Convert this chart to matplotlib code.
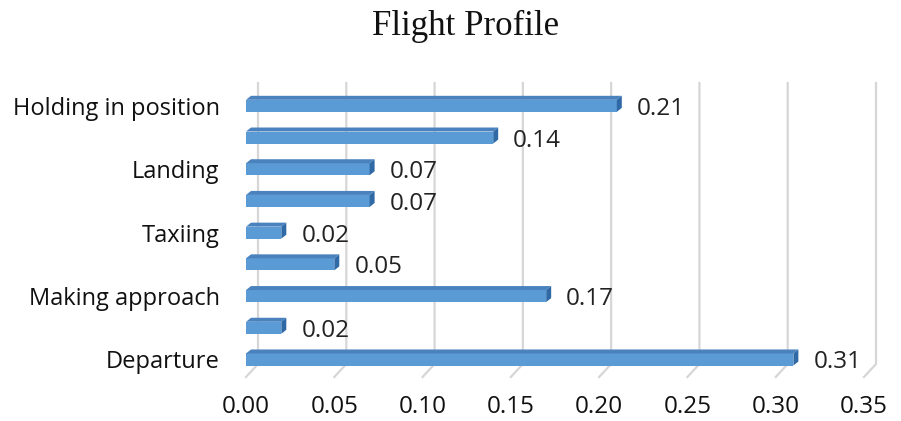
import matplotlib
matplotlib.use("Agg")
import matplotlib.pyplot as plt
from matplotlib.patches import Polygon

# Flight profile data, bottom to top
categories = ["Departure", "", "Making approach", "", "Taxiing", "",
              "Landing", "", "Holding in position"]
values = [0.31, 0.02, 0.17, 0.05, 0.02, 0.07, 0.07, 0.14, 0.21]
xticks = [0.00, 0.05, 0.10, 0.15, 0.20, 0.25, 0.30, 0.35]

FRONT = "#5B9BD5"
TOP = "#4A82BE"
SIDE = "#2F6AA6"
GRID = "#D6D6D6"
CAT_SIZE = 17
NUM_SIZE = 17.5

plt.rcParams["font.family"] = ["Open Sans", "DejaVu Sans"]

W, H, DPI = 901, 421, 100
fig = plt.figure(figsize=(W / DPI, H / DPI), dpi=DPI)

# axes box in pixels: front floor at the bottom, back wall top at the top
left_px, right_px = 246, 864
bottom_px, top_px = 377, 83
ax = fig.add_axes([left_px / W, (H - bottom_px) / H,
                   (right_px - left_px) / W, (bottom_px - top_px) / H])

ylo, yhi = -0.552, 8.72
ax.set_xlim(0, 0.35)
ax.set_ylim(ylo, yhi)

# data units per pixel
ux = 0.35 / (right_px - left_px)
uy = (yhi - ylo) / (bottom_px - top_px)

# 3D-style gridlines: back wall verticals with a diagonal to the front floor
gdx, gdy = 12 * ux, 13 * uy
for t in xticks:
    ax.plot([t, t + gdx, t + gdx], [ylo, ylo + gdy, yhi],
            color=GRID, lw=1.6, zorder=0, clip_on=False,
            solid_joinstyle="miter")

# bars: front face, top face and right side face
bh = 0.38
dx, dy = 5 * ux, 4 * uy
ypos = list(range(len(values)))
ax.barh(ypos, values, height=bh, color=FRONT, zorder=2)
for y, v in zip(ypos, values):
    yb, yt = y - bh / 2, y + bh / 2
    ax.add_patch(Polygon([(0, yt), (v, yt), (v + dx, yt + dy), (dx, yt + dy)],
                         closed=True, facecolor=TOP, edgecolor="none", zorder=2))
    ax.add_patch(Polygon([(v, yb), (v + dx, yb + dy), (v + dx, yt + dy), (v, yt)],
                         closed=True, facecolor=SIDE, edgecolor="none", zorder=2))
    ax.annotate(f"{v:.2f}", (v, y), xytext=(20, 0), textcoords="offset pixels",
                ha="left", va="center_baseline", fontsize=NUM_SIZE,
                color="#222222")

ax.set_xticks(xticks, [f"{t:.2f}" for t in xticks])
ax.set_yticks(ypos, categories)
ax.tick_params(axis="x", length=0, pad=13, labelsize=NUM_SIZE, labelcolor="#111111")
ax.tick_params(axis="y", length=0, pad=19, labelsize=CAT_SIZE, labelcolor="#111111")
for s in ax.spines.values():
    s.set_visible(False)

fig.text(466 / W, 1 - 26 / H, "Flight Profile", ha="center", va="center",
         fontsize=25, family=["Liberation Serif", "DejaVu Serif"], color="#111111")

fig.savefig("out.png", dpi=DPI)
